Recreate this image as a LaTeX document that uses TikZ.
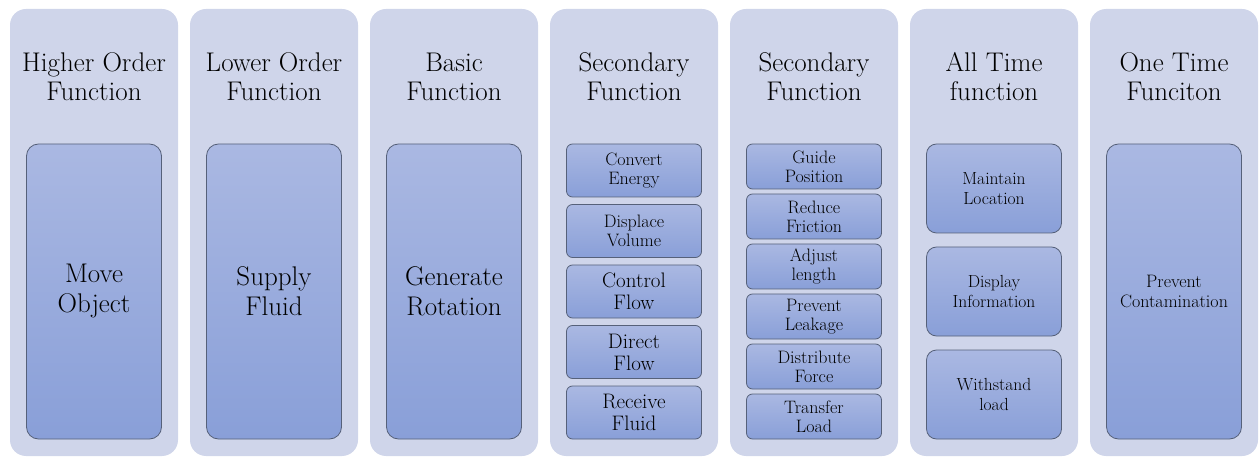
\documentclass[tikz,border=0pt]{standalone}
\usepackage{fontspec}
\definecolor{colbg}{HTML}{CFD5EA}
\definecolor{boxtop}{HTML}{AAB8E2}
\definecolor{boxbot}{HTML}{899FD8}
\definecolor{boxline}{HTML}{56617A}
\begin{document}
\begin{tikzpicture}[x=1pt,y=-1pt,
  column/.style={fill=colbg, rounded corners=16pt, minimum width=168pt, minimum height=447pt, inner sep=0pt},
  heading/.style={align=center, font=\fontsize{27}{29}\selectfont},
  fnbox/.style={draw=boxline, line width=0.8pt, top color=boxtop, bottom color=boxbot, minimum width=135pt, inner sep=0pt, align=center},
  bigbox/.style={fnbox, rounded corners=12pt, minimum height=295pt},
  midbox/.style={fnbox, rounded corners=10pt, minimum height=89pt, font=\fontsize{17.5}{19.5}\selectfont},
  smallbox/.style={fnbox, rounded corners=6pt, font=\fontsize{18}{19}\selectfont},
  bigtext/.style={font=\fontsize{27}{30}\selectfont},
  medtext/.style={font=\fontsize{21}{22}\selectfont}]
\useasboundingbox (0,0) rectangle (1259,457);
% columns
\node[column] (col1) at (94,232.5) {};
\node[column] (col2) at (274,232.5) {};
\node[column] (col3) at (454,232.5) {};
\node[column] (col4) at (634,232.5) {};
\node[column] (col5) at (814,232.5) {};
\node[column] (col6) at (994,232.5) {};
\node[column] (col7) at (1174,232.5) {};
% headings
\node[heading] (t1) at (94,77) {Higher Order\\Function};
\node[heading] (t2) at (274,77) {Lower Order\\Function};
\node[heading] (t3) at (454,77) {Basic\\Function};
\node[heading] (t4) at (634,77) {Secondary\\Function};
\node[heading] (t5) at (814,77) {Secondary\\Function};
\node[heading] (t6) at (994,77) {All Time\\function};
\node[heading] (t7) at (1174,77) {One Time\\Funciton};
% single functions
\node[bigbox, bigtext] (b1) at (94,291.5) {Move\\Object};
\node[bigbox, bigtext] (b2) at (274,291.5) {Supply\\Fluid};
\node[bigbox, bigtext] (b3) at (454,291.5) {Generate\\Rotation};
\node[bigbox, font=\fontsize{18}{19.5}\selectfont] (b7) at (1174,291.5) {Prevent\\Contamination};
% secondary functions (1)
\node[smallbox, minimum height=53pt] (b41) at (634,170.5) {Convert\\Energy};
\node[smallbox, minimum height=53pt] (b42) at (634,231) {Displace\\Volume};
\node[smallbox, minimum height=53pt, medtext] (b43) at (634,291.5) {Control\\Flow};
\node[smallbox, minimum height=53pt, medtext] (b44) at (634,352) {Direct\\Flow};
\node[smallbox, minimum height=53pt, medtext] (b45) at (634,412.5) {Receive\\Fluid};
% secondary functions (2)
\node[smallbox, minimum height=45pt] (b51) at (814,166.5) {Guide\\Position};
\node[smallbox, minimum height=45pt] (b52) at (814,216.5) {Reduce\\Friction};
\node[smallbox, minimum height=45pt] (b53) at (814,266.5) {Adjust\\length};
\node[smallbox, minimum height=45pt] (b54) at (814,316.5) {Prevent\\Leakage};
\node[smallbox, minimum height=45pt] (b55) at (814,366.5) {Distribute\\Force};
\node[smallbox, minimum height=45pt] (b56) at (814,416.5) {Transfer\\Load};
% all time functions
\node[midbox] (b61) at (994,188.5) {Maintain\\Location};
\node[midbox] (b62) at (994,291.5) {Display\\Information};
\node[midbox] (b63) at (994,394.5) {Withstand\\load};
\end{tikzpicture}
\end{document}
